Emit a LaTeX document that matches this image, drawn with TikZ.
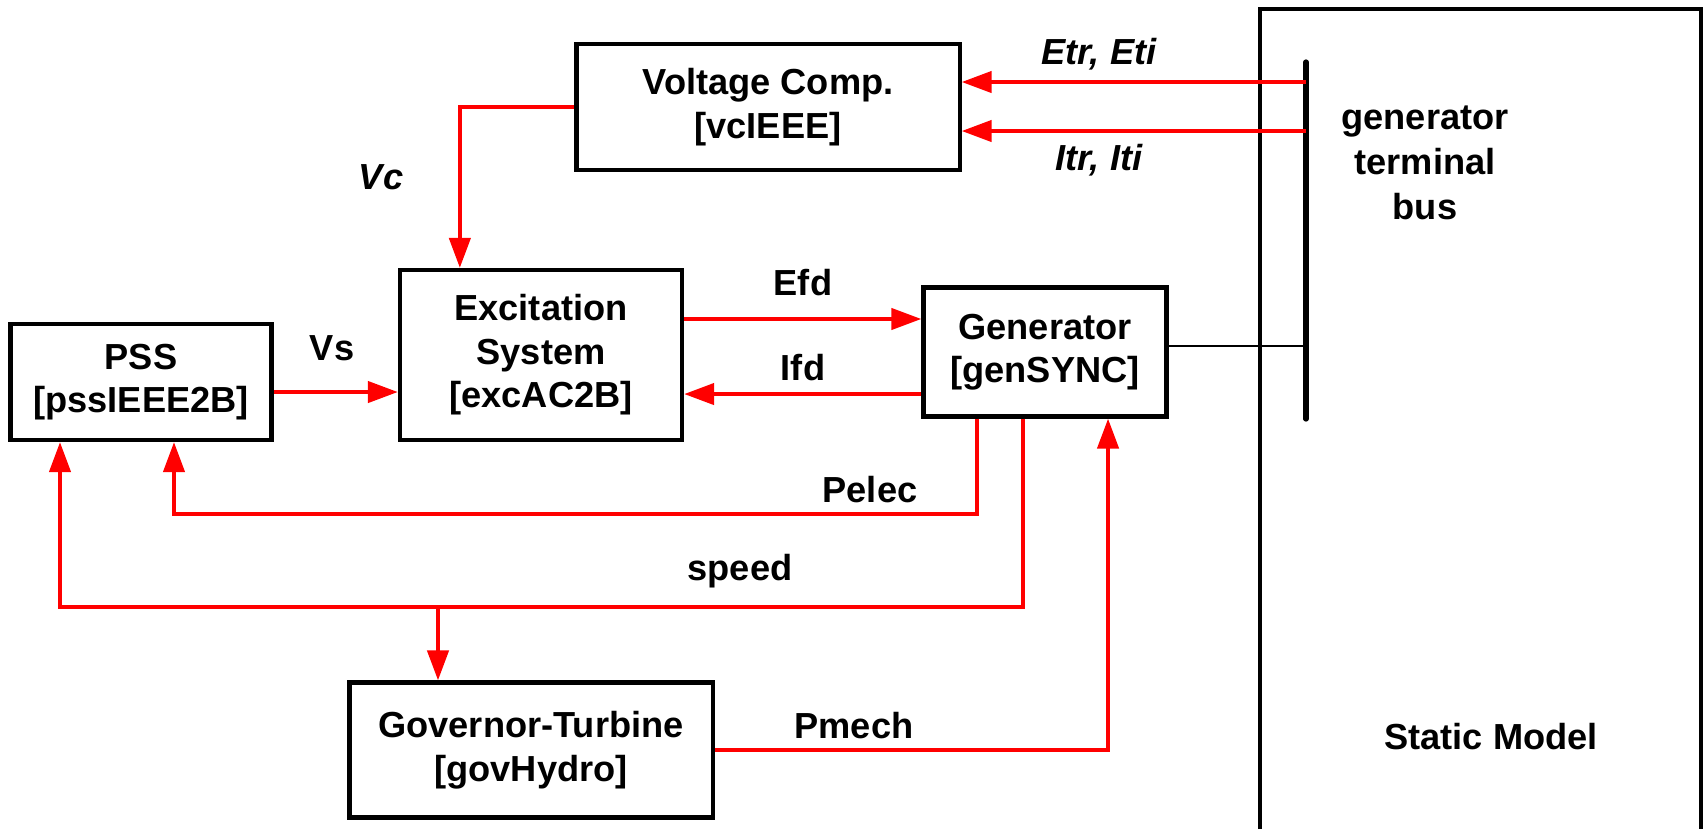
\documentclass[tikz,border=0pt]{standalone}
\usepackage{fontspec}
\setmainfont{Liberation Sans}
\usepackage{tikz}
\usetikzlibrary{arrows.meta,positioning,calc}
\definecolor{sig}{HTML}{FF0000}
\definecolor{ink}{HTML}{000000}
\tikzset{
  blk/.style={draw=ink,line width=1.2pt,align=center,inner sep=2pt,font=\bfseries\fontsize{10.3}{12.4}\selectfont},
  lbl/.style={font=\bfseries\fontsize{10.3}{12.4}\selectfont,inner sep=1pt},
  ilbl/.style={lbl,font=\bfseries\itshape\fontsize{10.3}{12.4}\selectfont},
  arr/.style={-{Triangle[length=8.5pt,width=6pt]},line width=1.1pt,draw=sig},
  busbar/.style={line width=1.5pt,draw=ink,line cap=round},
  tie/.style={line width=.45pt,draw=ink}
}
\begin{document}
\begin{tikzpicture}[x=0.01cm,y=-0.01cm]
\useasboundingbox (0,0) rectangle (1706,829);
% static side
\draw[line width=.9pt] (1260,829) -- (1260,9) -- (1701,9) -- (1701,829);
\coordinate (bustop) at (1306,62);
\coordinate (busbot) at (1306,419);
\coordinate (etr) at (1306,82);
\coordinate (itr) at (1306,131);
\draw[busbar] (bustop) -- (busbot);
\node[lbl,align=center,font=\bfseries\fontsize{10.3}{12.8}\selectfont] (busname) at (1425,163) {generator\\terminal\\bus};
\node[lbl] (static) at (1491,737) {Static Model};
% blocks
\node[blk,minimum width=3.83cm,minimum height=1.26cm] (vc) at (768,107) {Voltage Comp.\\{[}vcIEEE{]}};
\node[blk,minimum width=2.82cm,minimum height=1.70cm] (exc) at (541,355) {Excitation\\System\\{[}excAC2B{]}};
\node[blk,minimum width=2.61cm,minimum height=1.16cm] (pss) at (141,382) {PSS\\{[}pssIEEE2B{]}};
\node[blk,minimum width=2.43cm,minimum height=1.29cm] (gen) at (1045,352) {Generator\\{[}genSYNC{]}};
\node[blk,minimum width=3.63cm,minimum height=1.35cm] (gov) at (531,750) {Governor-Turbine\\{[}govHydro{]}};
% signals
\draw[arr] (etr) -- (etr -| vc.east);
\draw[arr] (itr) -- (itr -| vc.east);
\draw[arr] (vc.west) -| ([xshift=.62cm]exc.north west);
\draw[arr] ([yshift=.36cm]exc.east) -- ([yshift=.36cm]exc.east -| gen.west);
\draw[arr] ([yshift=-.39cm]exc.east -| gen.west) -- ([yshift=-.39cm]exc.east);
\draw[arr] ([yshift=-.1cm]pss.east) -- ([yshift=-.1cm]pss.east -| exc.west);
\draw[tie] ([yshift=.06cm]gen.east) -- ([yshift=.06cm]gen.east -| bustop);
\coordinate (pelec) at (174,514);
\coordinate (spd) at (60,607);
\coordinate (spdgov) at (438,607);
\draw[arr] ([xshift=-.68cm]gen.south) |- (pelec) -- (pelec |- pss.south);
\draw[arr] ([xshift=-.22cm]gen.south) |- (spd) -- (spd |- pss.south);
\draw[arr] (spdgov) -- (spdgov |- gov.north);
\draw[arr] (gov.east) -| ([xshift=.63cm]gen.south);
% labels
\node[ilbl] (etrlbl) at (1099,54) {Etr, Eti};
\node[ilbl] (itrlbl) at (1099,160) {Itr, Iti};
\node[ilbl] (vclbl) at (381,177) {Vc};
\node[lbl] (efdlbl) at (803,283) {Efd};
\node[lbl] (ifdlbl) at (803,368) {Ifd};
\node[lbl] (vslbl) at (332,348) {Vs};
\node[lbl] (pelbl) at (870,490) {Pelec};
\node[lbl] (spdlbl) at (740,571) {speed};
\node[lbl] (pmlbl) at (854,726) {Pmech};
\end{tikzpicture}
\end{document}
